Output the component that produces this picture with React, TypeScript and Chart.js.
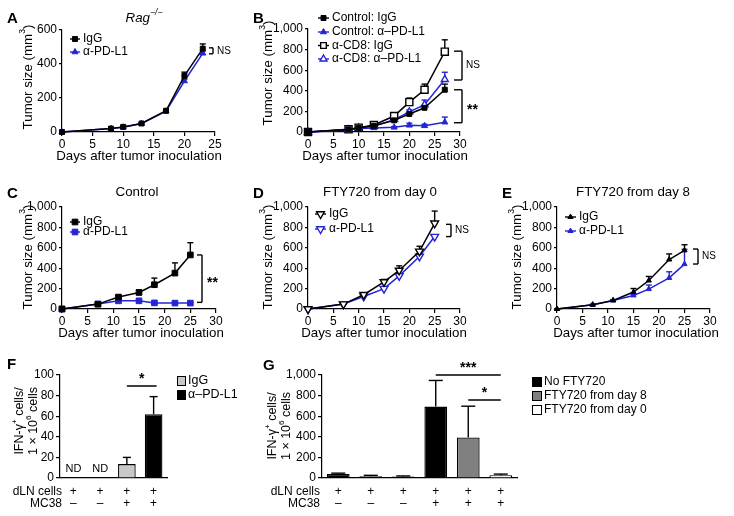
import React, { useEffect, useRef } from 'react';
import { Chart, registerables } from 'chart.js';
import { drawPoint } from 'chart.js/helpers';

Chart.register(...registerables);

const W = 734;
const H = 516;
const FONT = '"Liberation Sans", Arial, Helvetica, sans-serif';
const BLUE = '#2424d6';
const BLACK = '#000000';
const YW = 50; // fixed y-axis box width
const XH = 30; // fixed x-axis box height

// ---------- Panel A ----------
const DAYS_A = [0, 8, 10, 13, 17, 20, 23];
const A_IGG = [0, 20, 30, 50, 125, 330, 490];
const A_IGG_ERR = [0, 5, 8, 5, 5, 22, 28];
const A_PDL1 = [0, 20, 28, 50, 122, 300, 463];
const A_PDL1_ERR = [0, 3, 5, 5, 5, 10, 15];

// ---------- Panel B ----------
const DAYS_B = [0, 8, 10, 13, 17, 20, 23, 27];
const B_CTRL_IGG = [0, 25, 40, 60, 113, 175, 235, 410];
const B_CTRL_IGG_ERR = [0, 3, 5, 6, 10, 15, 25, 55];
const B_CTRL_PDL1 = [0, 20, 35, 40, 45, 65, 60, 95];
const B_CTRL_PDL1_ERR = [0, 3, 4, 5, 8, 20, 15, 50];
const B_CD8_IGG = [0, 26, 42, 68, 155, 290, 410, 780];
const B_CD8_IGG_ERR = [0, 4, 6, 8, 15, 40, 55, 115];
const B_CD8_PDL1 = [0, 22, 40, 55, 120, 195, 265, 510];
const B_CD8_PDL1_ERR = [0, 3, 5, 6, 10, 20, 45, 70];

// ---------- Panels C, D, E ----------
const DAYS_CDE = [0, 7, 11, 15, 18, 22, 25];
const C_IGG = [0, 48, 117, 162, 238, 352, 530];
const C_IGG_ERR = [0, 5, 15, 25, 65, 100, 120];
const C_PDL1 = [0, 48, 80, 80, 60, 58, 58];
const C_PDL1_ERR = [0, 3, 8, 8, 5, 5, 5];
const D_IGG = [0, 48, 140, 265, 378, 565, 840];
const D_IGG_ERR = [0, 4, 8, 25, 45, 50, 120];
const D_PDL1 = [0, 48, 123, 200, 325, 515, 710];
const D_PDL1_ERR = [0, 4, 8, 10, 15, 20, 15];
const E_IGG = [0, 42, 84, 166, 279, 485, 575];
const E_IGG_ERR = [0, 4, 8, 35, 40, 55, 55];
const E_PDL1 = [0, 42, 84, 133, 195, 305, 440];
const E_PDL1_ERR = [0, 3, 6, 10, 40, 60, 145];

// ---------- Panel F ----------
const F_GROUPS = ['g1', 'g2', 'g3', 'g4'];
const F_VALUES = [null, null, 13.5, 62];
const F_ERR = [0, 0, 6.5, 17];
const F_COLORS = ['#000000', '#000000', '#c8c8c8', '#000000'];
const F_DLN = ['+', '+', '+', '+'];
const F_MC38 = ['–', '–', '+', '+'];

// ---------- Panel G ----------
const G_GROUPS = ['g1', 'g2', 'g3', 'g4', 'g5', 'g6'];
const G_VALUES = [40, 18, 15, 693, 394, 26];
const G_ERR = [7, 8, 5, 254, 303, 12];
const G_COLORS = ['#000000', '#000000', '#000000', '#000000', '#808080', '#ffffff'];
const G_DLN = ['+', '+', '+', '+', '+', '+'];
const G_MC38 = ['–', '–', '–', '+', '+', '+'];

type Seg = { t: string; sup?: boolean };

function font(size: number, bold = false, italic = false) {
  return `${italic ? 'italic ' : ''}${bold ? 'bold ' : ''}${size}px ${FONT}`;
}

function txt(ctx: CanvasRenderingContext2D, s: string, x: number, y: number, size: number, o: any = {}) {
  ctx.save();
  ctx.font = font(size, o.bold, o.italic);
  ctx.fillStyle = o.color || BLACK;
  ctx.textAlign = o.align || 'left';
  ctx.textBaseline = o.baseline || 'middle';
  ctx.fillText(s, x, y);
  ctx.restore();
}

function rich(ctx: CanvasRenderingContext2D, segs: Seg[], x: number, y: number, size: number, o: any = {}) {
  ctx.save();
  ctx.translate(x, y);
  if (o.rotate) ctx.rotate(-Math.PI / 2);
  ctx.fillStyle = BLACK;
  ctx.textBaseline = 'middle';
  ctx.textAlign = 'left';
  let total = 0;
  const ws = segs.map((sg) => {
    ctx.font = font(sg.sup ? size * 0.65 : size, false, o.italic);
    const w = ctx.measureText(sg.t).width;
    total += w;
    return w;
  });
  let cx = o.align === 'left' ? 0 : -total / 2;
  segs.forEach((sg, i) => {
    ctx.font = font(sg.sup ? size * 0.65 : size, false, o.italic);
    ctx.fillText(sg.t, cx, sg.sup ? -size * 0.38 : 0);
    cx += ws[i];
  });
  ctx.restore();
}

function line(ctx: CanvasRenderingContext2D, x1: number, y1: number, x2: number, y2: number, color = BLACK, w = 1.3) {
  ctx.save();
  ctx.strokeStyle = color;
  ctx.lineWidth = w;
  ctx.beginPath();
  ctx.moveTo(x1, y1);
  ctx.lineTo(x2, y2);
  ctx.stroke();
  ctx.restore();
}

const TUMOR_TITLE: Seg[] = [{ t: 'Tumor size (mm' }, { t: '3', sup: true }, { t: ')' }];
const XTITLE = 'Days after tumor inoculation';

function yScaleOpts(max: number, step: number, tickLen = 3) {
  return {
    type: 'linear',
    min: 0,
    max,
    afterFit: (s: any) => { s.width = YW; },
    ticks: {
      stepSize: step,
      font: { family: FONT, size: 12 },
      color: BLACK,
      padding: 2,
      callback: (v: any) => Number(v).toLocaleString('en-US'),
    },
    grid: { display: true, drawOnChartArea: false, drawTicks: true, tickLength: tickLen, color: BLACK, lineWidth: 1.2 },
    border: { display: true, color: BLACK, width: 1.2 },
  };
}

function linePanel(p: any) {
  const { l, t, r, b } = p.rect;
  const plugin = {
    id: 'extras_' + p.id,
    beforeDatasetsDraw(chart: any) {
      const ctx = chart.ctx;
      const ys = chart.scales.y;
      p.series.forEach((s: any, di: number) => {
        const meta = chart.getDatasetMeta(di);
        s.err.forEach((e: number, i: number) => {
          if (!e) return;
          const pt = meta.data[i];
          const y1 = ys.getPixelForValue(s.y[i] + e);
          line(ctx, pt.x, pt.y, pt.x, y1, s.color, 1.4);
          line(ctx, pt.x - 3, y1, pt.x + 3, y1, s.color, 1.4);
        });
      });
    },
    afterDraw(chart: any) {
      const ctx = chart.ctx;
      const ys = chart.scales.y;
      txt(ctx, p.letter.t, p.letter.x, p.letter.y, 15, { bold: true, baseline: 'alphabetic' });
      if (p.title) rich(ctx, p.title.segs, p.title.x, p.title.y, 13.3, { italic: p.title.italic });
      rich(ctx, TUMOR_TITLE, p.yTitle.x, p.yTitle.y, 13.3, { rotate: true });
      txt(ctx, XTITLE, p.xTitle.x, p.xTitle.y, 13.3, { align: 'center' });
      // legend
      const lg = p.legend;
      p.series.forEach((s: any, i: number) => {
        const y = lg.ys[i];
        line(ctx, lg.x0, y, lg.x1, y, s.color, 1.4);
        ctx.save();
        ctx.fillStyle = s.open ? '#ffffff' : s.color;
        ctx.strokeStyle = s.color;
        ctx.lineWidth = s.open ? 1.4 : 1;
        drawPoint(ctx, { pointStyle: s.style, radius: s.legendRadius || s.radius, rotation: s.rotation || 0, borderWidth: s.open ? 1.4 : 1 }, (lg.x0 + lg.x1) / 2, y);
        ctx.restore();
        txt(ctx, s.label, lg.tx, y, 12);
      });
      // brackets
      (p.brackets || []).forEach((bk: any) => {
        const y1 = ys.getPixelForValue(bk.hi);
        const y2 = ys.getPixelForValue(bk.lo);
        line(ctx, bk.x, y1, bk.x, y2, BLACK, 1.4);
        line(ctx, bk.x - bk.w, y1, bk.x, y1, BLACK, 1.4);
        line(ctx, bk.x - bk.w, y2, bk.x, y2, BLACK, 1.4);
        if (bk.text === 'NS') txt(ctx, 'NS', bk.x + 4, (y1 + y2) / 2, 10);
        else txt(ctx, bk.text, bk.x + 5, (y1 + y2) / 2 + 4, 14, { bold: true });
      });
    },
  };
  return {
    type: 'line',
    data: {
      datasets: p.series.map((s: any) => ({
        label: s.label,
        data: s.x.map((d: number, i: number) => ({ x: d, y: s.y[i] })),
        borderColor: s.color,
        borderWidth: 1.5,
        pointStyle: s.style,
        pointRadius: s.radius,
        pointRotation: s.rotation || 0,
        pointBackgroundColor: s.open ? '#ffffff' : s.color,
        pointBorderColor: s.color,
        pointBorderWidth: s.open ? 1.4 : 1,
        tension: 0,
        clip: false,
        fill: false,
      })),
    },
    options: {
      responsive: false,
      animation: false,
      devicePixelRatio: 1,
      events: [],
      layout: { autoPadding: false, padding: { left: l - YW, top: t, right: W - r, bottom: H - b - XH } },
      plugins: { legend: { display: false }, tooltip: { enabled: false } },
      scales: {
        x: {
          type: 'linear',
          min: 0,
          max: p.xMax,
          afterFit: (s: any) => { s.height = XH; },
          ticks: { stepSize: 5, font: { family: FONT, size: 12 }, color: BLACK, padding: 1, maxRotation: 0, autoSkip: false },
          grid: { display: true, drawOnChartArea: false, drawTicks: true, tickLength: 4, color: BLACK, lineWidth: 1.2 },
          border: { display: true, color: BLACK, width: 1.2 },
        },
        y: yScaleOpts(p.yMax, p.yStep),
      },
    },
    plugins: [plugin],
  };
}

function barPanel(p: any) {
  const { l, t, r, b } = p.rect;
  const plugin = {
    id: 'extras_' + p.id,
    afterDatasetsDraw(chart: any) {
      const ctx = chart.ctx;
      const ys = chart.scales.y;
      const meta = chart.getDatasetMeta(0);
      p.err.forEach((e: number, i: number) => {
        if (!e || p.values[i] == null) return;
        const el = meta.data[i];
        const y1 = ys.getPixelForValue(p.values[i] + e);
        line(ctx, el.x, el.y, el.x, y1, BLACK, 1.4);
        line(ctx, el.x - p.cap, y1, el.x + p.cap, y1, BLACK, 1.4);
      });
    },
    afterDraw(chart: any) {
      const ctx = chart.ctx;
      const xs = chart.scales.x;
      txt(ctx, p.letter.t, p.letter.x, p.letter.y, 15, { bold: true, baseline: 'alphabetic' });
      rich(ctx, [{ t: 'IFN-γ' }, { t: '+', sup: true }, { t: ' cells/' }], p.yTitle.x1, p.yTitle.y, 12.5, { rotate: true });
      rich(ctx, [{ t: '1 × 10' }, { t: '6', sup: true }, { t: ' cells' }], p.yTitle.x2, p.yTitle.y, 12.5, { rotate: true });
      txt(ctx, 'dLN cells', p.rowLabelX, p.rowY[0], 12, { align: 'right' });
      txt(ctx, 'MC38', p.rowLabelX, p.rowY[1], 12, { align: 'right' });
      (p.nd || []).forEach((i: number) => {
        txt(ctx, 'ND', xs.getPixelForValue(i), p.ndY, 11, { align: 'center' });
      });
      (p.sig || []).forEach((sg: any) => {
        const x1 = xs.getPixelForValue(sg.from) - (sg.padL || 0);
        const x2 = xs.getPixelForValue(sg.to) + (sg.padR || 0);
        line(ctx, x1, sg.y, x2, sg.y, BLACK, 1.5);
        txt(ctx, sg.text, (x1 + x2) / 2, sg.y - 3, 14, { bold: true, align: 'center', baseline: 'alphabetic' });
      });
      // legend boxes
      p.legend.items.forEach((it: any, i: number) => {
        const y = p.legend.ys[i];
        ctx.save();
        ctx.fillStyle = it.color;
        ctx.strokeStyle = BLACK;
        ctx.lineWidth = 1;
        ctx.fillRect(p.legend.x, y - p.legend.bh / 2, p.legend.bw, p.legend.bh);
        ctx.strokeRect(p.legend.x + 0.5, y - p.legend.bh / 2 + 0.5, p.legend.bw - 1, p.legend.bh - 1);
        ctx.restore();
        txt(ctx, it.label, p.legend.x + p.legend.bw + 2, y, p.legend.size);
      });
    },
  };
  return {
    type: 'bar',
    data: {
      labels: p.groups,
      datasets: [{
        data: p.values,
        backgroundColor: p.colors,
        borderColor: BLACK,
        borderWidth: 1.3,
        barPercentage: p.barPct,
        categoryPercentage: 1,
      }],
    },
    options: {
      responsive: false,
      animation: false,
      devicePixelRatio: 1,
      events: [],
      layout: { autoPadding: false, padding: { left: l - YW, top: t, right: W - r, bottom: H - b - XH } },
      plugins: { legend: { display: false }, tooltip: { enabled: false } },
      scales: {
        x: {
          type: 'category',
          offset: true,
          afterFit: (s: any) => { s.height = XH; },
          ticks: {
            font: { family: FONT, size: 12, lineHeight: 1 },
            color: BLACK,
            padding: 8,
            maxRotation: 0,
            autoSkip: false,
            callback: (_v: any, i: number) => [p.dln[i], p.mc38[i]],
          },
          grid: { display: false, drawTicks: false },
          border: { display: true, color: BLACK, width: 1.2 },
        },
        y: yScaleOpts(p.yMax, p.yStep, 4),
      },
    },
    plugins: [plugin],
  };
}

const PANELS: any[] = [
  linePanel({
    id: 'A', rect: { l: 62, t: 30, r: 215, b: 132 }, xMax: 25, yMax: 600, yStep: 200,
    letter: { t: 'A', x: 7, y: 23 },
    title: { segs: [{ t: 'Rag' }, { t: '−/−', sup: true }], x: 144, y: 18, italic: true },
    yTitle: { x: 28, y: 77 }, xTitle: { x: 139, y: 156 },
    legend: { x0: 70, x1: 80, tx: 83, ys: [39, 52] },
    series: [
      { label: 'IgG', x: DAYS_A, y: A_IGG, err: A_IGG_ERR, color: BLACK, style: 'rect', radius: 3.5 },
      { label: 'α-PD-L1', x: DAYS_A, y: A_PDL1, err: A_PDL1_ERR, color: BLUE, style: 'triangle', radius: 3.5 },
    ],
    brackets: [{ x: 213, hi: 495, lo: 460, w: 4, text: 'NS' }],
  }),
  linePanel({
    id: 'B', rect: { l: 308, t: 29, r: 460, b: 132 }, xMax: 30, yMax: 1000, yStep: 200,
    letter: { t: 'B', x: 253, y: 23 },
    yTitle: { x: 268, y: 73 }, xTitle: { x: 385, y: 156 },
    legend: { x0: 318, x1: 329, tx: 332, ys: [18, 32, 45.5, 59] },
    series: [
      { label: 'Control: IgG', x: DAYS_B, y: B_CTRL_IGG, err: B_CTRL_IGG_ERR, color: BLACK, style: 'rect', radius: 3.5 },
      { label: 'Control: α–PD-L1', x: DAYS_B, y: B_CTRL_PDL1, err: B_CTRL_PDL1_ERR, color: BLUE, style: 'triangle', radius: 3.5 },
      { label: 'α-CD8: IgG', x: DAYS_B, y: B_CD8_IGG, err: B_CD8_IGG_ERR, color: BLACK, style: 'rect', radius: 5, open: true, legendRadius: 4 },
      { label: 'α-CD8: α–PD-L1', x: DAYS_B, y: B_CD8_PDL1, err: B_CD8_PDL1_ERR, color: BLUE, style: 'triangle', radius: 4, open: true },
    ],
    brackets: [
      { x: 462, hi: 785, lo: 505, w: 8, text: 'NS' },
      { x: 462, hi: 410, lo: 90, w: 8, text: '**' },
    ],
  }),
  linePanel({
    id: 'C', rect: { l: 62, t: 207, r: 216, b: 309 }, xMax: 30, yMax: 1000, yStep: 200,
    letter: { t: 'C', x: 7, y: 198 },
    title: { segs: [{ t: 'Control' }], x: 137, y: 192 },
    yTitle: { x: 28, y: 257 }, xTitle: { x: 141, y: 333 },
    legend: { x0: 70, x1: 80, tx: 83, ys: [222, 232] },
    series: [
      { label: 'IgG', x: DAYS_CDE, y: C_IGG, err: C_IGG_ERR, color: BLACK, style: 'rect', radius: 4 },
      { label: 'α-PD-L1', x: DAYS_CDE, y: C_PDL1, err: C_PDL1_ERR, color: BLUE, style: 'rect', radius: 4 },
    ],
    brackets: [{ x: 202, hi: 530, lo: 65, w: 5, text: '**' }],
  }),
  linePanel({
    id: 'D', rect: { l: 308, t: 207, r: 460, b: 309 }, xMax: 30, yMax: 1000, yStep: 200,
    letter: { t: 'D', x: 253, y: 198 },
    title: { segs: [{ t: 'FTY720 from day 0' }], x: 380, y: 192 },
    yTitle: { x: 268, y: 257 }, xTitle: { x: 384, y: 333 },
    legend: { x0: 315, x1: 326, tx: 329, ys: [214, 229] },
    series: [
      { label: 'IgG', x: DAYS_CDE, y: D_IGG, err: D_IGG_ERR, color: BLACK, style: 'triangle', rotation: 180, radius: 4.5, open: true },
      { label: 'α-PD-L1', x: DAYS_CDE, y: D_PDL1, err: D_PDL1_ERR, color: BLUE, style: 'triangle', rotation: 180, radius: 4.5, open: true },
    ],
    brackets: [{ x: 451, hi: 830, lo: 710, w: 5, text: 'NS' }],
  }),
  linePanel({
    id: 'E', rect: { l: 557, t: 207, r: 710, b: 309 }, xMax: 30, yMax: 1000, yStep: 200,
    letter: { t: 'E', x: 502, y: 198 },
    title: { segs: [{ t: 'FTY720 from day 8' }], x: 633, y: 192 },
    yTitle: { x: 517, y: 257 }, xTitle: { x: 636, y: 333 },
    legend: { x0: 565, x1: 576, tx: 579, ys: [217, 231] },
    series: [
      { label: 'IgG', x: DAYS_CDE, y: E_IGG, err: E_IGG_ERR, color: BLACK, style: 'triangle', radius: 3 },
      { label: 'α-PD-L1', x: DAYS_CDE, y: E_PDL1, err: E_PDL1_ERR, color: BLUE, style: 'triangle', radius: 3 },
    ],
    brackets: [{ x: 698, hi: 588, lo: 441, w: 5, text: 'NS' }],
  }),
  barPanel({
    id: 'F', rect: { l: 60, t: 375, r: 167, b: 478 }, yMax: 100, yStep: 20,
    groups: F_GROUPS, values: F_VALUES, err: F_ERR, colors: F_COLORS, dln: F_DLN, mc38: F_MC38,
    barPct: 0.66, cap: 4,
    letter: { t: 'F', x: 7, y: 369 },
    yTitle: { x1: 20, x2: 34, y: 421 },
    rowLabelX: 62, rowY: [492, 504],
    nd: [0, 1], ndY: 469,
    sig: [{ from: 2, to: 3, y: 386, text: '*', padR: 3 }],
    legend: { x: 177, bw: 9, bh: 10, size: 12.5, ys: [381, 395], items: [{ color: '#c8c8c8', label: 'IgG' }, { color: '#000000', label: 'α–PD-L1' }] },
  }),
  barPanel({
    id: 'G', rect: { l: 322, t: 375, r: 517, b: 478 }, yMax: 1000, yStep: 200,
    groups: G_GROUPS, values: G_VALUES, err: G_ERR, colors: G_COLORS, dln: G_DLN, mc38: G_MC38,
    barPct: 0.7, cap: 7,
    letter: { t: 'G', x: 263, y: 370 },
    yTitle: { x1: 273, x2: 287, y: 426 },
    rowLabelX: 320, rowY: [492, 504],
    sig: [
      { from: 3, to: 5, y: 375, text: '***' },
      { from: 4, to: 5, y: 400, text: '*' },
    ],
    legend: { x: 532, bw: 10, bh: 10, size: 12, ys: [382, 396, 410], items: [
      { color: '#000000', label: 'No FTY720' },
      { color: '#808080', label: 'FTY720 from day 8' },
      { color: '#ffffff', label: 'FTY720 from day 0' },
    ] },
  }),
];

function PanelCanvas({ config }: { config: any }) {
  const ref = useRef<HTMLCanvasElement | null>(null);
  useEffect(() => {
    if (!ref.current) return;
    const chart = new Chart(ref.current, config);
    return () => chart.destroy();
  }, [config]);
  return (
    <canvas
      ref={ref}
      width={W}
      height={H}
      style={{ position: 'absolute', left: 0, top: 0, width: W, height: H }}
    />
  );
}

export default function App() {
  return (
    <div style={{ position: 'absolute', left: 0, top: 0, width: W, height: H, background: '#ffffff', overflow: 'hidden' }}>
      {PANELS.map((cfg, i) => (
        <PanelCanvas key={i} config={cfg} />
      ))}
    </div>
  );
}
